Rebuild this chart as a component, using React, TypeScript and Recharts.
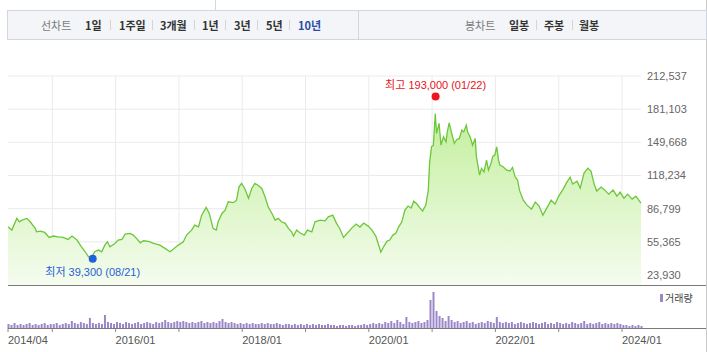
import {
  ComposedChart,
  Area,
  XAxis,
  YAxis,
  CartesianGrid,
  ReferenceDot,
  Label,
  BarChart,
  Bar,
} from "recharts";

const FONT = '"Liberation Sans", "Noto Sans CJK KR", sans-serif';
const KFONT = '"Noto Sans CJK KR", sans-serif';

const START = 2014.3;
const END = 2024.3;

const lineTabs = ["1일", "1주일", "3개월", "1년", "3년", "5년", "10년"];
const candleTabs = ["일봉", "주봉", "월봉"];

const priceTicks = [23930, 55365, 86799, 118234, 149668, 181103, 212537];
const yearTicks = [2014.3, 2015, 2016, 2017, 2018, 2019, 2020, 2021, 2022, 2023, 2024];
const dateLabelTicks = [2014.3, 2016, 2018, 2020, 2022, 2024];
const dateLabels = ["2014/04", "2016/01", "2018/01", "2020/01", "2022/01", "2024/01"];

// weekly-ish closes: [decimal year, price]
const closes: [number, number][] = [
  [2014.3, 69700], [2014.36, 66500], [2014.44, 77600], [2014.48, 74400], [2014.52, 76000],
  [2014.6, 77600], [2014.65, 74400], [2014.73, 68100], [2014.75, 64900], [2014.81, 65500],
  [2014.88, 64300], [2014.95, 59600], [2015.02, 60900], [2015.09, 60200], [2015.17, 59600],
  [2015.25, 57700], [2015.31, 60900], [2015.39, 57100], [2015.46, 50700], [2015.52, 46000],
  [2015.57, 41300], [2015.62, 40700], [2015.67, 46000], [2015.73, 47600], [2015.78, 46000],
  [2015.83, 52300], [2015.87, 55500], [2015.91, 50700], [2015.99, 53900], [2016.04, 57100],
  [2016.1, 57700], [2016.15, 62700], [2016.23, 63400], [2016.28, 61800], [2016.33, 58700],
  [2016.39, 54500], [2016.44, 56400], [2016.52, 55800], [2016.6, 53900], [2016.7, 52300],
  [2016.78, 49200], [2016.86, 46000], [2016.91, 48300], [2016.99, 52300], [2017.07, 55500],
  [2017.12, 61800], [2017.2, 66500], [2017.25, 71300], [2017.31, 69700], [2017.36, 80700],
  [2017.43, 88000], [2017.48, 82300], [2017.54, 68100], [2017.59, 66500], [2017.62, 74400],
  [2017.68, 82300], [2017.73, 85500], [2017.78, 93300], [2017.86, 92500], [2017.91, 94900],
  [2017.95, 107500], [2017.99, 110800], [2018.04, 106000], [2018.1, 96600], [2018.15, 106000],
  [2018.2, 110800], [2018.25, 109100], [2018.31, 106000], [2018.36, 98100], [2018.41, 88600],
  [2018.47, 82300], [2018.52, 76000], [2018.57, 77600], [2018.62, 74400], [2018.68, 72900],
  [2018.73, 68100], [2018.78, 64900], [2018.81, 60900], [2018.86, 66500], [2018.91, 64000],
  [2018.98, 61800], [2019.03, 66500], [2019.1, 64900], [2019.15, 74400], [2019.23, 76000],
  [2019.31, 75300], [2019.36, 79100], [2019.43, 80700], [2019.49, 72900], [2019.54, 68100],
  [2019.6, 59600], [2019.68, 64900], [2019.73, 68400], [2019.8, 72200], [2019.86, 69400],
  [2019.92, 73200], [2019.99, 70300], [2020.05, 66500], [2020.11, 60900], [2020.16, 51400],
  [2020.19, 45700], [2020.24, 51400], [2020.29, 56100], [2020.33, 57100], [2020.38, 61800],
  [2020.43, 63700], [2020.47, 69400], [2020.52, 74100], [2020.57, 85500], [2020.62, 89300],
  [2020.67, 87400], [2020.71, 94000], [2020.76, 91200], [2020.81, 87400], [2020.85, 84500],
  [2020.9, 90200], [2020.94, 104400], [2020.96, 130000], [2020.99, 145400], [2021.02, 147000],
  [2021.05, 177000], [2021.07, 158100], [2021.11, 167600], [2021.14, 147000], [2021.18, 154900],
  [2021.22, 150100], [2021.24, 159600], [2021.27, 168100], [2021.31, 158100], [2021.35, 148600],
  [2021.39, 152400], [2021.43, 153400], [2021.47, 161200], [2021.5, 159600], [2021.54, 166000],
  [2021.56, 159600], [2021.6, 154900], [2021.64, 147000], [2021.68, 153400], [2021.7, 135900],
  [2021.75, 118600], [2021.78, 125000], [2021.82, 121700], [2021.86, 132800], [2021.89, 123300],
  [2021.93, 129700], [2021.96, 136600], [2021.99, 137500], [2022.02, 145400], [2022.05, 132800],
  [2022.07, 128100], [2022.12, 126500], [2022.18, 123300], [2022.23, 122500], [2022.27, 125900],
  [2022.31, 117000], [2022.35, 113900], [2022.38, 104400], [2022.44, 94900], [2022.5, 90200],
  [2022.57, 86400], [2022.63, 93000], [2022.69, 89300], [2022.75, 80700], [2022.82, 88300],
  [2022.88, 94900], [2022.94, 91100], [2023.0, 98700], [2023.07, 105400], [2023.12, 111000],
  [2023.18, 116700], [2023.22, 110100], [2023.29, 112900], [2023.34, 106300], [2023.4, 120500],
  [2023.46, 125200], [2023.51, 122400], [2023.56, 110100], [2023.6, 103500], [2023.67, 107300],
  [2023.73, 104400], [2023.79, 100600], [2023.86, 104400], [2023.92, 98700], [2023.97, 102500],
  [2024.03, 96800], [2024.09, 100600], [2024.16, 95900], [2024.22, 98700], [2024.3, 92100],
];

// volume, evenly spaced from START to END
const volumes = [
  4, 3, 5, 3, 4, 3, 4, 5, 3, 4, 3, 4, 5, 3, 4,
  4, 5, 3, 4, 5, 4, 7, 5, 4, 6, 5, 4, 10, 5, 4,
  5, 4, 13, 6, 5, 4, 6, 5, 4, 6, 5, 4, 5, 6, 4,
  5, 6, 5, 4, 6, 5, 6, 8, 6, 5, 6, 7, 6, 7, 6,
  5, 6, 5, 6, 7, 5, 6, 5, 6, 5, 7, 9, 6, 5, 6,
  5, 4, 5, 4, 5, 4, 5, 4, 4, 5, 4, 5, 4, 4, 5,
  4, 3, 4, 4, 3, 4, 3, 4, 3, 4, 3, 4, 3, 4, 3,
  3, 4, 3, 3, 2, 3, 3, 2, 3, 3, 2, 3, 3, 4, 3,
  4, 5, 4, 5, 4, 6, 5, 7, 5, 8, 6, 4, 11, 6, 5,
  6, 7, 5, 6, 8, 28, 36, 17, 12, 10, 7, 12,
  8, 6, 7, 5, 6, 7, 5, 6, 4, 5, 6, 5, 7,
  6, 5, 11, 6, 5, 6, 5, 6, 4, 5, 6, 5, 4, 5, 6,
  5, 4, 5, 6, 4, 5, 4, 6, 5, 4, 5, 4, 6, 5, 4,
  5, 7, 4, 5, 4, 5, 6, 4, 5, 4, 5, 4, 5, 4, 3,
  3, 2, 3, 2, 3, 2,
];

const highMark = { date: 2021.055, price: 193000, text: "최고 193,000 (01/22)" };
const lowMark = { date: 2015.638, price: 39300, text: "최저 39,300 (08/21)" };

const priceData = closes.map(([t, price]) => ({ t, price }));
const volStep = (END - START) / (volumes.length - 1);
const volumeData = volumes.map((v, i) => ({ t: START + i * volStep, v }));

// tab layout (page x)
const lineTabLefts = [84, 118, 159, 201, 233, 265, 297];
const lineSepLefts = [109, 151, 193, 224, 256, 288];
const candleTabLefts = [508, 543, 578];
const candleSepLefts = [535, 571];

function DateTick(props: any) {
  const { x, y, payload } = props;
  const idx = dateLabelTicks.indexOf(payload.value);
  if (idx < 0) return <g />;
  return (
    <text x={x} y={y + 10} textAnchor="start" fill="#555" fontSize={11} fontFamily={FONT}>
      {dateLabels[idx]}
    </text>
  );
}

function TabBar() {
  const label = (text: string, left: number, color: string, weight: number) => (
    <span
      key={text + left}
      style={{
        position: "absolute",
        left: left - 7,
        top: 0,
        lineHeight: "28px",
        fontSize: 11,
        fontWeight: weight,
        color,
        fontFamily: KFONT,
        whiteSpace: "nowrap",
      }}
    >
      {text}
    </span>
  );
  const sep = (left: number) => (
    <span
      key={"s" + left}
      style={{ position: "absolute", left: left - 7, top: 9, width: 1, height: 10, background: "#d5d5d5" }}
    />
  );
  return (
    <div
      style={{
        position: "absolute",
        left: 7,
        top: 10,
        width: 700,
        height: 30,
        boxSizing: "border-box",
        background: "#f3f5f8",
        border: "1px solid #d3d6dc",
      }}
    >
      {label("선차트", 40, "#7a7a7a", 400)}
      {lineTabs.map((t, i) =>
        label(t, lineTabLefts[i], i === lineTabs.length - 1 ? "#2a4ea6" : "#333", 700)
      )}
      {lineSepLefts.map(sep)}
      <span style={{ position: "absolute", left: 350, top: -1, width: 1, height: 30, background: "#d3d6dc" }} />
      {label("봉차트", 464, "#7a7a7a", 400)}
      {candleTabs.map((t, i) => label(t, candleTabLefts[i], "#333", 700))}
      {candleSepLefts.map(sep)}
    </div>
  );
}

export default function App() {
  return (
    <div style={{ position: "relative", width: 707, height: 352, overflow: "hidden", background: "#fff" }}>
      <style>{"body{margin:0}"}</style>

      <div style={{ position: "absolute", left: 0, top: 0 }}>
        <ComposedChart
          width={707}
          height={285}
          data={priceData}
          margin={{ top: 76, right: 0, bottom: 0, left: 8 }}
        >
          <defs>
            <linearGradient id="priceFill" x1="0" y1="0" x2="0" y2="1">
              <stop offset="0%" stopColor="#c3ef9e" />
              <stop offset="100%" stopColor="#f5fcef" />
            </linearGradient>
          </defs>
          <CartesianGrid
            stroke="#ebebeb"
            verticalValues={yearTicks}
            horizontalValues={priceTicks}
          />
          <XAxis dataKey="t" type="number" domain={[START, END]} ticks={yearTicks} hide />
          <YAxis
            orientation="right"
            width={66}
            domain={[14500, 212537]}
            ticks={priceTicks}
            allowDataOverflow
            axisLine={false}
            tickLine={false}
            tickSize={4}
            tickMargin={2}
            tick={{ fontSize: 11, fill: "#666", fontFamily: FONT }}
            tickFormatter={(v: number) => v.toLocaleString("en-US")}
          />
          <Area
            type="linear"
            dataKey="price"
            stroke="#6cc73a"
            strokeWidth={1.3}
            fill="url(#priceFill)"
            fillOpacity={1}
            dot={false}
            activeDot={false}
            isAnimationActive={false}
          />
          <ReferenceDot x={highMark.date} y={highMark.price} r={4} fill="#f0141c" stroke="none" ifOverflow="visible">
            <Label value={highMark.text} position="top" offset={4} fill="#e5141c" fontSize={11} fontFamily={FONT} />
          </ReferenceDot>
          <ReferenceDot x={lowMark.date} y={lowMark.price} r={4} fill="#1f62dc" stroke="none" ifOverflow="visible">
            <Label value={lowMark.text} position="bottom" offset={5} fill="#1f5fd6" fontSize={11} fontFamily={FONT} />
          </ReferenceDot>
        </ComposedChart>
      </div>

      <div style={{ position: "absolute", left: 0, top: 288 }}>
        <BarChart
          width={707}
          height={64}
          data={volumeData}
          margin={{ top: 0, right: 66, bottom: 0, left: 8 }}
        >
          <XAxis
            dataKey="t"
            type="number"
            domain={[START, END]}
            ticks={yearTicks}
            interval={0}
            height={24}
            axisLine={false}
            tickSize={4}
            tickLine={{ stroke: "#8a8a8a" }}
            tick={<DateTick />}
          />
          <YAxis hide domain={[0, 40]} />
          <Bar dataKey="v" fill="#9b86c9" barSize={2} isAnimationActive={false} />
        </BarChart>
      </div>

      <div style={{ position: "absolute", left: 660, top: 294, width: 3, height: 8, background: "#9b86c9" }} />
      <span
        style={{
          position: "absolute",
          left: 665,
          top: 291,
          fontSize: 10,
          lineHeight: "14px",
          color: "#444",
          fontFamily: KFONT,
        }}
      >
        거래량
      </span>

      <div style={{ position: "absolute", left: 8, top: 285, width: 698, height: 1, background: "#7a7a7a" }} />
      <div style={{ position: "absolute", left: 8, top: 328, width: 698, height: 1, background: "#7a7a7a" }} />
      <div style={{ position: "absolute", left: 706, top: 0, width: 1, height: 352, background: "#c9c9c9" }} />
      <div style={{ position: "absolute", left: 215, top: 0, width: 1, height: 10, background: "#d3d6dc" }} />

      <TabBar />
    </div>
  );
}
